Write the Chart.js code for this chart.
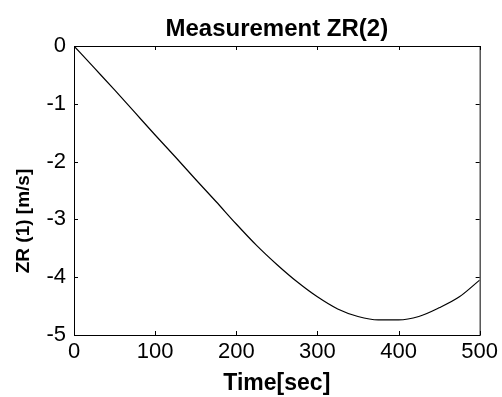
<!DOCTYPE html>
<html>
<head>
<meta charset="utf-8">
<script src="https://cdn.jsdelivr.net/npm/chart.js@4.4.1/dist/chart.umd.min.js"></script>
<style>
  html, body { margin: 0; padding: 0; background: #fff; }
  #wrap { width: 502px; height: 397px; }
</style>
</head>
<body>
<div id="wrap"><canvas id="zrChart" width="502" height="397"></canvas></div>
<script>
/* ── DATA ───────────────────────────── */
const timeSec = [0, 25, 50, 75, 100, 125, 150, 175, 200, 225, 250, 275, 300, 325, 350, 375, 400, 425, 450, 475, 500];
const zrValues = [0, -0.38, -0.76, -1.15, -1.54, -1.92, -2.31, -2.69, -3.08, -3.45, -3.78, -4.08, -4.34, -4.55, -4.68, -4.74, -4.74, -4.68, -4.53, -4.34, -4.05];
const xTicks = [0, 100, 200, 300, 400, 500];
const yTicks = [-5, -4, -3, -2, -1, 0];
const titleText = 'Measurement ZR(2)';
const xTitle = 'Time[sec]';
const yTitle = 'ZR (1) [m/s]';

const FONT = "'Liberation Sans', Arial, Helvetica, sans-serif";

/* ── PLUGIN: box, inward ticks, titles ─ */
const matlabFrame = {
    id: 'matlabFrame',
    afterDraw(chart) {
        const { ctx, chartArea: a, scales: { x, y } } = chart;
        const len = 4;
        ctx.save();
        ctx.strokeStyle = '#000';
        ctx.lineWidth = 1;
        ctx.strokeRect(a.left + 0.5, a.top + 0.5, a.right - a.left, a.bottom - a.top);
        ctx.beginPath();
        xTicks.forEach(v => {
            const px = Math.round(x.getPixelForValue(v)) + 0.5;
            ctx.moveTo(px, a.bottom); ctx.lineTo(px, a.bottom - len);
            ctx.moveTo(px, a.top); ctx.lineTo(px, a.top + len);
        });
        yTicks.forEach(v => {
            const py = Math.round(y.getPixelForValue(v)) + 0.5;
            ctx.moveTo(a.left, py); ctx.lineTo(a.left + len, py);
            ctx.moveTo(a.right, py); ctx.lineTo(a.right - len, py);
        });
        ctx.stroke();

        ctx.fillStyle = '#000';
        ctx.textAlign = 'center';
        ctx.textBaseline = 'alphabetic';
        ctx.font = 'bold 24px ' + FONT;
        ctx.fillText(titleText, (a.left + a.right) / 2, 36);
        ctx.font = 'bold 23px ' + FONT;
        ctx.fillText(xTitle, (a.left + a.right) / 2, 390);

        ctx.translate(29, 221);
        ctx.rotate(-Math.PI / 2);
        ctx.font = 'bold 19px ' + FONT;
        ctx.fillText(yTitle, 0, 0);
        ctx.restore();
    }
};

new Chart(document.getElementById('zrChart'), {
    type: 'line',
    data: {
        datasets: [{
            label: 'ZR',
            data: timeSec.map((t, i) => ({ x: t, y: zrValues[i] })),
            borderColor: '#000',
            borderWidth: 1.2,
            pointRadius: 0,
            fill: false,
            cubicInterpolationMode: 'monotone'
        }]
    },
    options: {
        responsive: false,
        animation: false,
        layout: { padding: { left: 0, right: 22, top: 46, bottom: 0 } },
        plugins: { legend: { display: false }, tooltip: { enabled: false } },
        scales: {
            x: {
                type: 'linear',
                min: 0, max: 500,
                afterBuildTicks: s => { s.ticks = xTicks.map(v => ({ value: v })); },
                afterFit: s => { s.height = 62; },
                grid: { drawOnChartArea: false, drawTicks: false },
                border: { display: false },
                ticks: { color: '#000', font: { family: FONT, size: 22 }, padding: 4, maxRotation: 0 }
            },
            y: {
                min: -5, max: 0,
                afterBuildTicks: s => { s.ticks = yTicks.map(v => ({ value: v })); },
                afterFit: s => { s.width = 74; },
                grid: { drawOnChartArea: false, drawTicks: false },
                border: { display: false },
                ticks: { color: '#000', font: { family: FONT, size: 22 }, padding: 8 }
            }
        }
    },
    plugins: [matlabFrame]
});
</script>
</body>
</html>
